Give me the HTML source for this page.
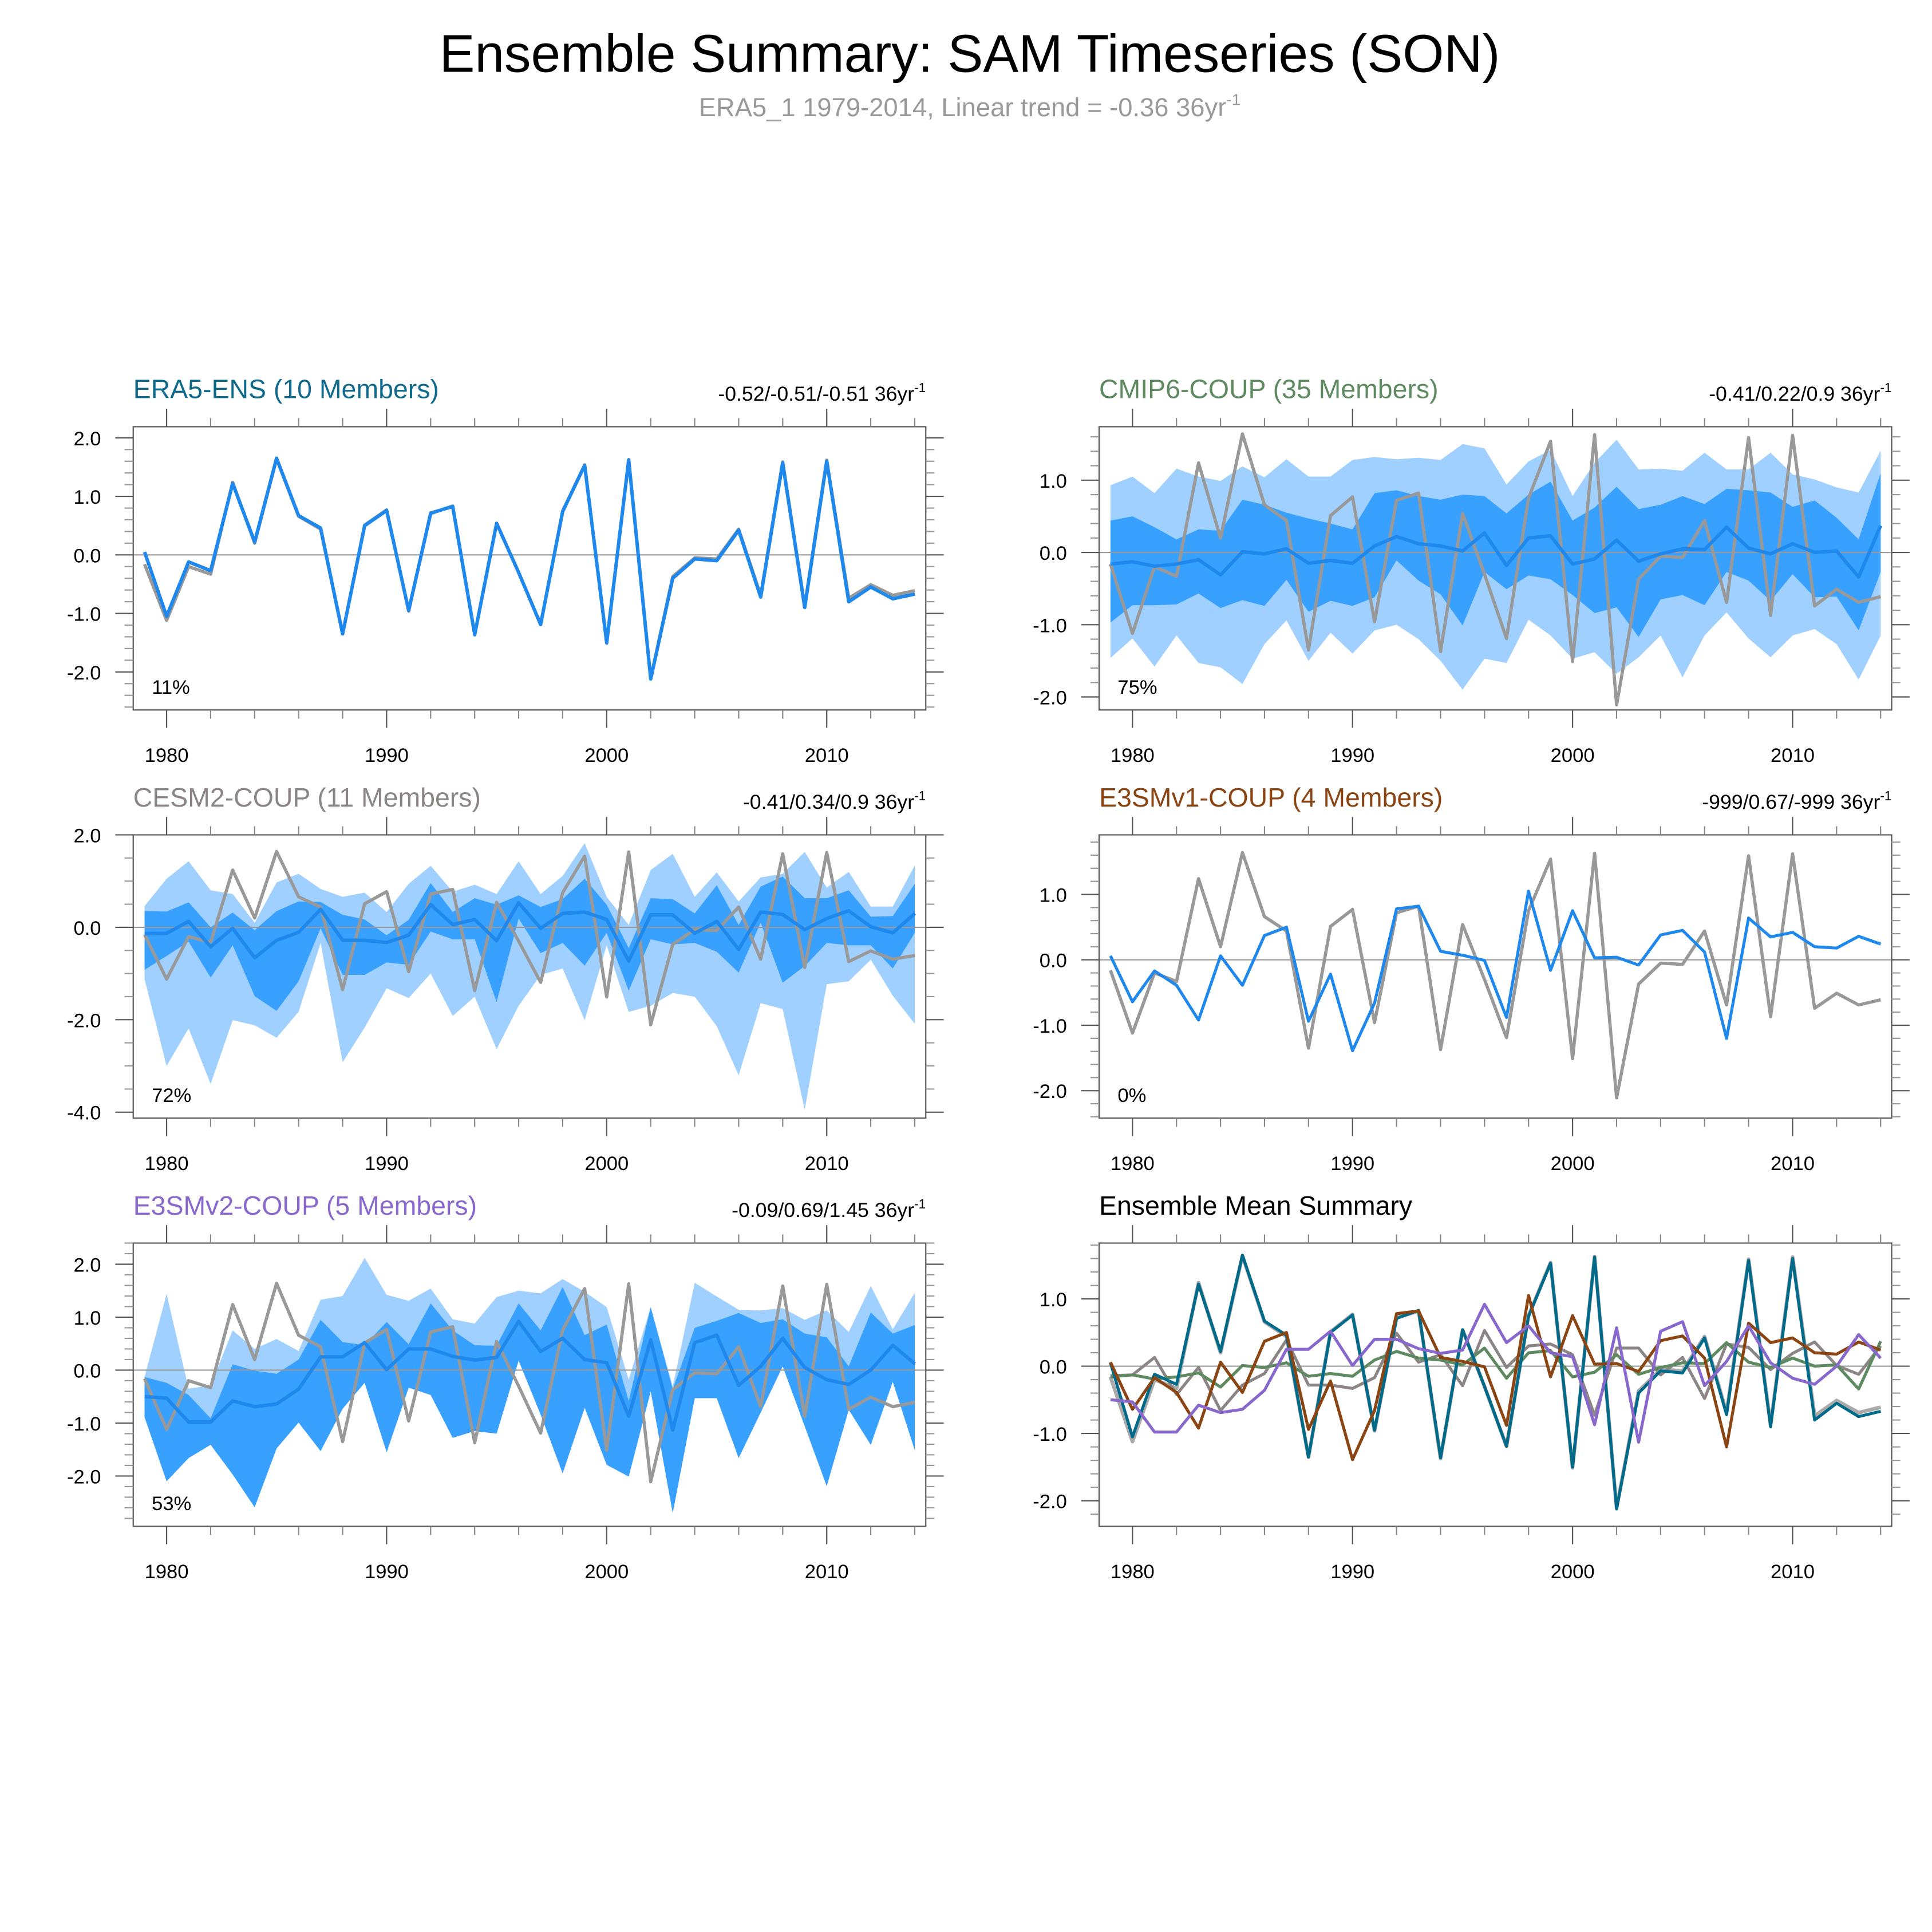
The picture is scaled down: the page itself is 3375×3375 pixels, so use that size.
<!DOCTYPE html>
<html><head><meta charset="utf-8"><style>
html,body{margin:0;padding:0;background:#fff}
svg{display:block}
text{font-family:"Liberation Sans",Arial,sans-serif}
</style></head><body>
<svg id="chart" xmlns="http://www.w3.org/2000/svg" width="3375" height="3375" viewBox="0 0 1562 1562">
<rect x="0" y="0" width="1562" height="1562" fill="#fff"/>
<text x="784" y="58" font-size="43" text-anchor="middle" fill="#000">Ensemble Summary: SAM Timeseries (SON)</text>
<text x="784" y="94" font-size="21" text-anchor="middle" fill="#999">ERA5_1 1979-2014, Linear trend = -0.36 36yr<tspan dy="-9" font-size="13">-1</tspan></text>
</svg>
<script>
const years = [];
for (let y = 1979; y <= 2014; y++) years.push(y);
const obs = [-0.16,-1.12,-0.2,-0.33,1.24,0.2,1.64,0.66,0.44,-1.35,0.51,0.77,-0.96,0.72,0.82,-1.37,0.54,-0.3,-1.19,0.75,1.54,-1.51,1.63,-2.11,-0.37,-0.05,-0.07,0.44,-0.69,1.59,-0.87,1.62,-0.74,-0.51,-0.69,-0.61];
const era5Mean = [0.05,-1.05,-0.12,-0.27,1.22,0.22,1.65,0.67,0.46,-1.35,0.5,0.76,-0.95,0.71,0.83,-1.36,0.54,-0.3,-1.19,0.74,1.53,-1.5,1.62,-2.12,-0.4,-0.07,-0.1,0.42,-0.72,1.57,-0.9,1.6,-0.8,-0.55,-0.75,-0.67];
const cmipMean = [-0.16,-0.13,-0.19,-0.16,-0.10,-0.31,0.01,-0.02,0.05,-0.15,-0.11,-0.15,0.09,0.22,0.12,0.09,0.02,0.27,-0.18,0.20,0.23,-0.16,-0.09,0.17,-0.12,-0.02,0.05,0.04,0.35,0.06,-0.02,0.12,0.0,0.02,-0.34,0.37];
const cmipInnerHi = [0.44,0.50,0.35,0.18,0.32,0.30,0.73,0.66,0.55,0.47,0.40,0.32,0.82,0.86,0.78,0.73,0.80,0.78,0.54,0.80,0.98,0.44,0.62,0.91,0.60,0.66,0.78,0.67,0.88,0.86,0.83,0.63,0.72,0.48,0.18,1.10];
const cmipInnerLo = [-0.97,-0.73,-0.73,-0.72,-0.57,-0.77,-0.66,-0.74,-0.38,-0.82,-0.67,-0.74,-0.62,-0.11,-0.39,-0.58,-1.01,-0.27,-0.51,-0.32,-0.37,-0.59,-0.84,-0.76,-1.17,-0.65,-0.59,-0.73,-0.27,-0.39,-0.67,-0.30,-0.62,-0.61,-1.08,-0.27];
const cmipOuterHi = [0.93,1.05,0.82,1.16,1.05,0.99,1.19,1.04,1.29,1.05,1.05,1.28,1.32,1.29,1.31,1.28,1.50,1.44,0.94,1.26,1.42,0.78,1.24,1.56,1.15,1.16,1.13,1.38,1.15,1.15,1.38,1.08,1.01,0.90,0.83,1.41];
const cmipOuterLo = [-1.46,-1.19,-1.58,-1.15,-1.53,-1.59,-1.82,-1.27,-0.94,-1.50,-1.11,-1.40,-1.08,-1.00,-1.20,-1.50,-1.90,-1.47,-1.53,-0.93,-1.15,-1.47,-1.38,-1.68,-1.45,-1.15,-1.73,-1.15,-0.83,-1.19,-1.45,-1.15,-1.06,-1.27,-1.76,-1.15];
const cesmMean = [-0.14,-0.13,0.13,-0.42,-0.02,-0.66,-0.28,-0.11,0.39,-0.28,-0.28,-0.33,-0.17,0.49,0.06,0.17,-0.29,0.53,-0.02,0.30,0.33,0.17,-0.73,0.27,0.27,-0.13,0.13,-0.48,0.33,0.28,-0.05,0.19,0.36,0.01,-0.12,0.30];
const cesmInnerHi = [0.35,0.34,0.54,0.0,0.32,-0.06,0.35,0.56,0.55,0.27,0.17,-0.17,0.16,0.96,0.33,0.63,0.49,0.69,0.44,0.61,1.05,0.49,-0.45,0.63,0.61,0.30,0.91,0.05,0.88,1.10,0.63,0.63,0.80,0.23,0.24,0.94];
const cesmInnerLo = [-0.92,-0.62,-0.31,-1.09,-0.39,-1.49,-1.81,-1.17,-0.02,-1.03,-1.03,-0.76,-0.81,-0.09,-0.26,-0.26,-1.62,0.19,-0.56,-0.34,-0.83,-0.12,-1.37,-0.26,-0.37,-0.34,-0.53,-0.98,0.1,-1.20,-0.84,-0.34,-0.39,-0.39,-0.89,-0.12];
const cesmOuterHi = [0.46,1.05,1.43,0.80,0.72,0.10,0.97,1.16,0.83,0.66,0.75,0.33,0.94,1.33,0.77,0.92,0.72,1.43,0.72,1.11,1.82,0.66,0.05,1.24,1.59,0.66,1.19,0.56,1.08,1.16,1.63,0.86,1.20,0.45,0.45,1.34];
const cesmOuterLo = [-1.12,-3.0,-2.19,-3.39,-2.01,-2.12,-2.39,-1.83,-0.34,-2.92,-2.17,-1.32,-1.53,-1.0,-1.92,-1.50,-2.64,-1.70,-1.03,-0.89,-2.01,-0.39,-1.83,-1.70,-1.42,-1.50,-2.14,-3.2,-1.64,-1.77,-3.95,-1.23,-1.17,-0.70,-1.48,-2.09];
const e3v1 = [0.06,-0.64,-0.17,-0.39,-0.92,0.06,-0.39,0.37,0.50,-0.94,-0.22,-1.39,-0.66,0.78,0.82,0.13,0.07,-0.01,-0.88,1.05,-0.16,0.75,0.03,0.04,-0.08,0.38,0.45,0.12,-1.20,0.64,0.35,0.42,0.20,0.18,0.36,0.24];
const e3v2Mean = [-0.50,-0.53,-0.98,-0.98,-0.58,-0.69,-0.64,-0.36,0.25,0.25,0.52,0.01,0.40,0.40,0.26,0.19,0.24,0.92,0.35,0.60,0.20,0.14,-0.87,0.57,-1.13,0.52,0.66,-0.29,0.07,0.60,0.05,-0.18,-0.27,0.0,0.47,0.12];
const e3v2InnerHi = [-0.13,-0.24,-0.47,-0.91,0.11,-0.01,-0.07,0.20,0.95,0.53,0.47,0.91,0.49,1.26,0.75,0.47,0.46,1.26,0.75,1.57,0.66,0.86,-0.58,1.19,-0.36,0.80,0.93,1.08,0.89,0.96,0.69,0.62,0.07,1.09,0.69,0.85];
const e3v2OuterHi = [-0.13,1.44,-0.35,-0.29,0.75,0.40,0.59,0.36,1.33,1.40,2.12,1.42,1.31,1.54,0.96,0.88,1.38,1.50,1.45,1.72,1.48,1.19,-0.18,1.19,-0.31,1.65,1.39,1.14,1.13,1.17,0.95,1.13,0.72,1.59,0.77,1.46];
const e3v2Lo = [-0.89,-2.10,-1.66,-1.41,-1.97,-2.59,-1.48,-0.99,-1.53,-0.73,-0.24,-1.55,-0.33,-0.47,-1.28,-1.15,-1.20,0.18,-0.84,-1.95,-0.71,-1.79,-2.01,-0.40,-2.70,-0.53,-0.53,-1.66,-0.80,0.07,-1.06,-2.19,-0.75,-1.41,-0.22,-1.51];
const xTickYears = [1980,1990,2000,2010];

const NS = "http://www.w3.org/2000/svg";
const svg = document.getElementById('chart');
function mk(tag, attrs, parent) {
  const e = document.createElementNS(NS, tag);
  for (const k in attrs) e.setAttribute(k, attrs[k]);
  (parent || svg).appendChild(e);
  return e;
}
function makePanel(cfg) {
  const g = mk('g', {});
  
  
  const x0 = cfg.x0, x1 = cfg.x0 + 640.8, y0 = cfg.y0, y1 = cfg.y0 + 229;
  const xs = yr => x0 + 27 + (yr - 1980) * 17.79;
  const ys = v => y0 + (cfg.top - v) / (cfg.top - cfg.bot) * (y1 - y0);
  const ptsOf = arr => arr.map((v, i) => xs(years[i]).toFixed(1) + ',' + ys(v).toFixed(1));
  const band = (hi, lo, color, nm) => {
    const p = mk('polygon', {points: ptsOf(hi).concat(ptsOf(lo).reverse()).join(' '), fill: color}, g);
    
    
  };
  const line = (arr, color, w, nm) => {
    const p = mk('polyline', {points: ptsOf(arr).join(' '), fill: 'none', stroke: color, 'stroke-width': w, 'stroke-linejoin': 'round'}, g);
    
    
  };
  if (cfg.outer) band(cfg.outer[0], cfg.outer[1], '#a0d0ff', 'outer-spread-band');
  if (cfg.inner) band(cfg.inner[0], cfg.inner[1], '#38a0ff', 'inner-spread-band');
  const z = mk('line', {x1: x0, x2: x1, y1: ys(0), y2: ys(0), stroke: '#999', 'stroke-width': 1}, g);
  
  
  cfg.lines.forEach(l => line(l[0], l[1], l[2], l[3]));
  const box = mk('rect', {x: x0, y: y0, width: x1 - x0, height: y1 - y0, fill: 'none', stroke: '#555', 'stroke-width': 1}, g);
  
  
  for (let yr = 1980; yr <= 2014; yr += 2) {
    const major = yr % 10 === 0;
    const len = major ? 14.5 : 7;
    [[y0, y0 - len], [y1, y1 + len]].forEach(s => {
      const t = mk('line', {x1: xs(yr), x2: xs(yr), y1: s[0], y2: s[1], stroke: major ? '#555' : '#888', 'stroke-width': 1}, g);
      
      
    });
  }
  xTickYears.forEach(yr => {
    const t = mk('text', {x: xs(yr), y: y1 + 42, 'font-size': 16, 'text-anchor': 'middle', fill: '#000'}, g);
    t.textContent = yr;
    
    
  });
  const mstep = cfg.minor;
  for (let k = Math.ceil(cfg.bot / mstep - 1e-6); k * mstep <= cfg.top + 1e-6; k++) {
    const vv = Math.round(k * mstep * 100) / 100;
    const major = Math.abs(vv / cfg.major - Math.round(vv / cfg.major)) < 1e-6;
    const len = major ? 14.5 : 7;
    [[x0, x0 - len], [x1, x1 + len]].forEach(s => {
      const t = mk('line', {x1: s[0], x2: s[1], y1: ys(vv), y2: ys(vv), stroke: major ? '#555' : '#999', 'stroke-width': 1}, g);
      
      
    });
    if (major) {
      const t = mk('text', {x: x0 - 26, y: ys(vv) + 6, 'font-size': 16, 'text-anchor': 'end', fill: '#000'}, g);
      t.textContent = vv.toFixed(1);
      
      
    }
  }
  const tt = mk('text', {x: x0, y: y0 - 23, 'font-size': 21.5, fill: cfg.tcolor}, g);
  tt.textContent = cfg.title;
  
  
  if (cfg.stat) {
    const st = mk('text', {x: x1, y: y0 - 21, 'font-size': 16.5, 'text-anchor': 'end', fill: '#000'}, g);
    st.textContent = cfg.stat + ' 36yr';
    const sup = mk('tspan', {dy: -7, 'font-size': 10.5}, st);
    sup.textContent = '-1';
    
    
  }
  if (cfg.pct) {
    const pt = mk('text', {x: x0 + 15, y: y1 - 13, 'font-size': 16, fill: '#000'}, g);
    pt.textContent = cfg.pct;
    
    
  }
}
const L = 107.7, R = 888.6;
makePanel({name: 'era5-ens-panel', x0: L, y0: 345, top: 2.19, bot: -2.65, major: 1, minor: 0.2,
  title: 'ERA5-ENS (10 Members)', tcolor: '#0e6a8c', stat: '-0.52/-0.51/-0.51', pct: '11%',
  lines: [[obs, '#999', 2.6, 'observed-line'], [era5Mean, '#1e88ec', 2.8, 'ensemble-mean-line']]});
makePanel({name: 'cmip6-coup-panel', x0: R, y0: 345, top: 1.74, bot: -2.18, major: 1, minor: 0.2,
  title: 'CMIP6-COUP (35 Members)', tcolor: '#5e8a60', stat: '-0.41/0.22/0.9', pct: '75%',
  outer: [cmipOuterHi, cmipOuterLo], inner: [cmipInnerHi, cmipInnerLo],
  lines: [[obs, '#999', 2.6, 'observed-line'], [cmipMean, '#1e88ec', 2.8, 'ensemble-mean-line']]});
makePanel({name: 'cesm2-coup-panel', x0: L, y0: 675, top: 2.0, bot: -4.13, major: 2, minor: 0.5,
  title: 'CESM2-COUP (11 Members)', tcolor: '#8b8585', stat: '-0.41/0.34/0.9', pct: '72%',
  outer: [cesmOuterHi, cesmOuterLo], inner: [cesmInnerHi, cesmInnerLo],
  lines: [[obs, '#999', 2.6, 'observed-line'], [cesmMean, '#1e88ec', 2.8, 'ensemble-mean-line']]});
makePanel({name: 'e3smv1-coup-panel', x0: R, y0: 675, top: 1.91, bot: -2.42, major: 1, minor: 0.2,
  title: 'E3SMv1-COUP (4 Members)', tcolor: '#8b4513', stat: '-999/0.67/-999', pct: '0%',
  lines: [[obs, '#999', 2.6, 'observed-line'], [e3v1, '#1e88ec', 2.4, 'ensemble-mean-line']]});
makePanel({name: 'e3smv2-coup-panel', x0: L, y0: 1005, top: 2.4, bot: -2.95, major: 1, minor: 0.2,
  title: 'E3SMv2-COUP (5 Members)', tcolor: '#8968cd', stat: '-0.09/0.69/1.45', pct: '53%',
  outer: [e3v2OuterHi, e3v2Lo], inner: [e3v2InnerHi, e3v2Lo],
  lines: [[obs, '#999', 2.6, 'observed-line'], [e3v2Mean, '#1e88ec', 2.8, 'ensemble-mean-line']]});
makePanel({name: 'ensemble-mean-summary-panel', x0: R, y0: 1005, top: 1.83, bot: -2.38, major: 1, minor: 0.2,
  title: 'Ensemble Mean Summary', tcolor: '#000',
  lines: [[obs, '#aaa', 3, 'observed-line'], [cesmMean, '#8b8585', 2.4, 'cesm2-mean-line'],
    [cmipMean, '#5e8a60', 2.4, 'cmip6-mean-line'], [era5Mean, '#006a8b', 2.4, 'era5-mean-line'],
    [e3v1, '#8b4513', 2.4, 'e3smv1-mean-line'], [e3v2Mean, '#8968cd', 2.4, 'e3smv2-mean-line']]});
</script>
</body></html>
